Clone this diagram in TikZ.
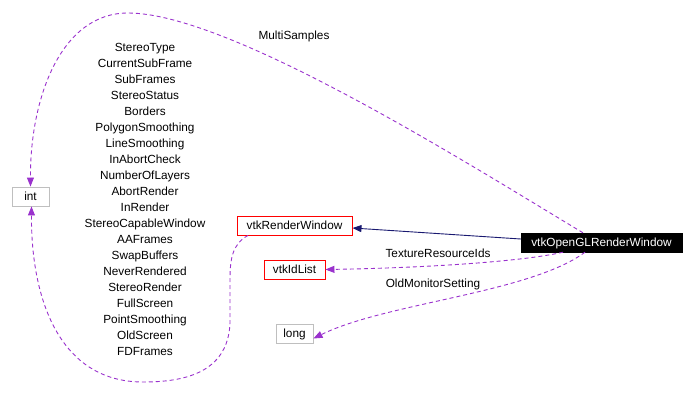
\documentclass[tikz,border=0pt]{standalone}
\usepackage{fontspec}
\setmainfont{Liberation Sans}
\usetikzlibrary{arrows.meta}
\definecolor{edgepurple}{HTML}{9A32CD}
\definecolor{edgenavy}{HTML}{191970}
\definecolor{boxgray}{HTML}{BFBFBF}
\begin{document}
\begin{tikzpicture}[x=1pt,y=-1pt,
  every node/.style={font=\fontsize{11.8}{13}\selectfont,inner sep=0pt,text height=9.4pt,text depth=1pt},
  cls/.style={draw,line width=0.9pt,minimum height=19pt,anchor=center},
  redbox/.style={cls,draw=red},
  graybox/.style={cls,draw=boxgray},
  lbl/.style={anchor=center},
  usage/.style={draw=edgepurple,line width=0.9pt,dash pattern=on 4pt off 3pt,
    -{Triangle[length=9pt,width=7pt,fill=edgepurple,sep=0pt]}},
  inherit/.style={draw=edgenavy,line width=0.9pt,
    -{Triangle[length=9pt,width=7pt,fill=edgenavy]}}]
\useasboundingbox (0,0) rectangle (696,401);

% nodes
\node[graybox,minimum width=37pt] (int) at (30.5,196.5) {int};
\node[redbox,minimum width=115pt] (rw) at (294.5,225.5) {vtkRenderWindow};
\node[redbox,minimum width=61pt] (idl) at (294.5,269.5) {vtkIdList};
\node[graybox,minimum width=37pt] (long) at (294.5,333.5) {long};
\node[draw=black,fill=black,text=white,minimum width=161pt,minimum height=19pt] (ogl) at (601.5,242.5) {vtkOpenGLRenderWindow};

% helper coordinates
\coordinate (mA) at ([xshift=-18.5pt]ogl.north);
\coordinate (tA) at ([xshift=-38.5pt]ogl.south);
\coordinate (lA) at ([xshift=-16.5pt]ogl.south);
\coordinate (rA) at ([xshift=-46.5pt]rw.south);

% edges
\draw[inherit] (ogl.west |- 0,239) -- (rw.east |- 0,228);
\draw[usage] (tA) .. controls (520,262) and (420,268) .. (idl.east);
\draw[usage] (lA) .. controls (530,293) and (385,303) .. ([yshift=-5pt]long.east);
\draw[usage] (mA) .. controls (470,165) and (230,13) .. (128,13)
  .. controls (60,13) and (30,100) .. (int.north);
\draw[usage] (rA) .. controls (232,244) and (230,260) .. (230,280) -- (230,323)
  .. controls (228,375) and (180,382) .. (143,382)
  .. controls (60,382) and (31,300) .. ([xshift=1pt]int.south);

% labels
\node[lbl] (lms) at (294,35) {MultiSamples};
\node[lbl] (ltr) at (438,253) {TextureResourceIds};
\node[lbl] (lom) at (433,283) {OldMonitorSetting};
\foreach \t [count=\i from 0] in {StereoType,CurrentSubFrame,SubFrames,StereoStatus,Borders,PolygonSmoothing,LineSmoothing,InAbortCheck,NumberOfLayers,AbortRender,InRender,StereoCapableWindow,AAFrames,SwapBuffers,NeverRendered,StereoRender,FullScreen,PointSmoothing,OldScreen,FDFrames}
  \node[lbl] (l\i) at (145,47+16*\i) {\t};
\end{tikzpicture}
\end{document}
